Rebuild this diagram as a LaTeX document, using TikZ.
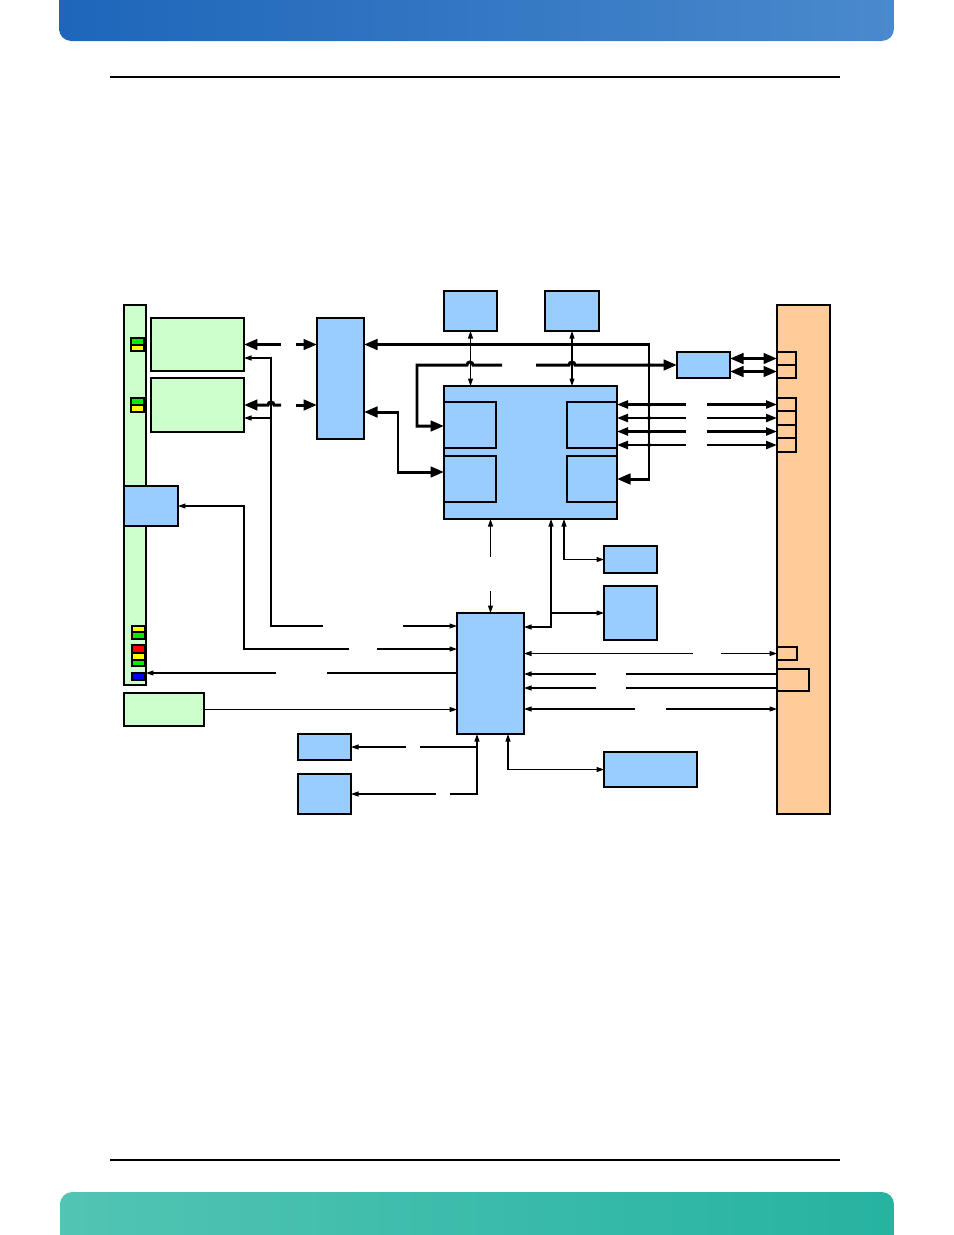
\documentclass[tikz,border=0pt]{standalone}
\usepackage{tikz}
\usepackage{xcolor}
\usetikzlibrary{arrows.meta, positioning, calc, fit}
\definecolor{cBlue}{RGB}{153,204,255}
\definecolor{cLime}{RGB}{204,255,204}
\definecolor{cPeach}{RGB}{255,204,153}
\definecolor{cLedG}{RGB}{0,238,0}
\definecolor{cLedY}{RGB}{255,255,0}
\definecolor{cLedR}{RGB}{255,0,0}
\definecolor{cLedB}{RGB}{0,0,255}
\definecolor{cHeadL}{RGB}{30,102,186}
\definecolor{cHeadR}{RGB}{74,137,204}
\definecolor{cFootL}{RGB}{82,196,180}
\definecolor{cFootR}{RGB}{38,179,160}
\tikzset{
    box/.style      ={rectangle, draw=black, line width=0.6pt, inner sep=0pt, outer sep=0pt},
    bluebox/.style  ={box, fill=cBlue},
    greenbox/.style ={box, fill=cLime},
    peachbox/.style ={box, fill=cPeach},
    bus/.style      ={line width=1.7pt, >={Triangle[length=2.7mm, width=2.1mm]}},
    midbus/.style   ={line width=1.3pt, >={Triangle[length=2.2mm, width=1.6mm]}},
    sig/.style      ={line width=0.6pt, >={Triangle[length=1.5mm, width=1mm]}},
}

\begin{document}
\begin{tikzpicture}[x=0.02cm, y=-0.02cm]
        \useasboundingbox (0,0) rectangle (954,1235);
        % page header and footer
        \begin{scope}
            \clip (59,0) rectangle (894,41);
            \shade[left color=cHeadL, right color=cHeadR, rounded corners=7pt] (59,-30) rectangle (894,41);
        \end{scope}
        \begin{scope}
            \clip (60,1192) rectangle (894,1235);
            \shade[left color=cFootL, right color=cFootR, rounded corners=7pt] (60,1192) rectangle (894,1265);
        \end{scope}
        \draw[line width=0.6pt] (110,77) -- (840,77);
        \draw[line width=0.6pt] (110,1160) -- (840,1160);

        % front panel and LEDs
        \node[greenbox, fit={(124,305) (146,685)}] (ledbar) {};
        \foreach \xa/\ya/\yb/\col in {131/338/345/cLedG, 131/345/351/cLedY, 131/398/405/cLedG, 131/405/412/cLedY,
                                     132/626/632/cLedY, 132/632/639/cLedG, 132/645/653/cLedR, 132/653/660/cLedY,
                                     132/660/666/cLedG, 132/673/680/cLedB}
            \draw[fill=\col, line width=0.6pt] (\xa,\ya) rectangle (\xa+13,\yb);
        \node[greenbox, fit={(151,318) (244,371)}] (lan1) {};
        \node[greenbox, fit={(151,378) (244,432)}] (lan2) {};
        \node[bluebox,  fit={(124,486) (178,526)}] (leftblue) {};
        \node[greenbox, fit={(124,693) (204,726)}] (pwrbox) {};

        % blocks
        \node[bluebox, fit={(317,318) (364,439)}] (hub) {};
        \node[bluebox, fit={(444,291) (497,331)}] (topA) {};
        \node[bluebox, fit={(545,291) (599,331)}] (topB) {};
        \node[bluebox, fit={(444,386) (617,519)}] (cpu) {};
        \node[bluebox, fit={(444,402) (496,448)}] (cpuTL) {};
        \node[bluebox, fit={(444,456) (496,502)}] (cpuBL) {};
        \node[bluebox, fit={(567,402) (617,448)}] (cpuTR) {};
        \node[bluebox, fit={(567,456) (617,502)}] (cpuBR) {};
        \node[bluebox, fit={(677,352) (730,378)}] (phy) {};
        \node[bluebox, fit={(457,613) (524,734)}] (io) {};
        \node[bluebox, fit={(604,546) (657,573)}] (sm1) {};
        \node[bluebox, fit={(604,586) (657,640)}] (sm2) {};
        \node[bluebox, fit={(604,752) (697,787)}] (wide) {};
        \node[bluebox, fit={(298,734) (351,760)}] (lb1) {};
        \node[bluebox, fit={(298,774) (351,814)}] (lb2) {};

        % edge connector
        \node[peachbox, fit={(777,305) (830,814)}] (conn) {};
        \foreach \n/\ya/\yb in {c1/352/365, c2/365/378, c3/398/411, c4/411/425, c5/425/438, c6/438/452}
            \node[peachbox, fit={(777,\ya) (796,\yb)}] (\n) {};
        \node[peachbox, fit={(777,647) (797,660)}] (c7) {};
        \node[peachbox, fit={(777,669) (809,691)}] (c8) {};

        % thick buses
        \draw[bus,<-] (lan1.east) -- ++(37,0);
        \draw[bus,->] (lan1.east) ++(52,0) -- (hub.west |- lan1.east);
        \draw[bus,<-] (lan2.east) -- ++(24,0) arc[start angle=180, end angle=360, radius=3] -- ++(7,0);
        \draw[bus,->] (lan2.east) ++(52,0) -- (hub.west |- lan2.east);
        \draw[bus,<->] (hub.east |- lan1.east) -| ($(cpu.east |- 0,479)+(32,0)$) -- (cpu.east |- 0,479);
        \draw[bus,<->] (hub.east |- 0,412) -- ++(34,0) |- (cpu.west |- 0,472);
        \draw[bus,<-] (phy.west) -- ++(-102,0) arc[start angle=0, end angle=-180, radius=3] -- ++(-33,0);
        \draw[bus,->] (phy.west) ++(-175,0) -- ++(-29,0) arc[start angle=0, end angle=-180, radius=3] -- ++(-50,0) |- (cpu.west |- 0,426);
        \draw[bus,<->] (phy.east |- c1.west) -- (c1.west);
        \draw[bus,<->] (phy.east |- c2.west) -- (c2.west);
        \foreach \c in {c3,c4,c5,c6} {
            \draw[midbus,<-] (cpu.east |- \c.west) -- ++(69,0);
            \draw[midbus,->] (cpu.east |- \c.west) ++(90,0) -- (\c.west);
        }
        \foreach \yy in {365,405,418,432,445}
            \fill (649,\yy) circle[radius=2];

        % thin signals
        \draw[sig,<->] (topA.south) -- (topA.south |- cpu.north);
        \draw[sig,<->] (topB.south) -- (topB.south |- cpu.north);
        \draw[sig,<-] (io.west |- 0,626) -- ++(-54,0);
        \draw[sig,->] (io.west |- 0,626) ++(-134,0) -- ++(-52,0) |- (lan1.east |- 0,358);
        \coordinate (tap) at (271,418);
        \draw[sig,->] (tap) -- (lan2.east |- tap);
        \draw[sig,<-] (io.west |- 0,649) -- ++(-80,0);
        \draw[sig,->] (io.west |- 0,649) ++(-108,0) -- ++(-105,0) |- (leftblue.east);
        \draw[sig] (io.west |- 0,673) -- ++(-130,0);
        \draw[sig,->] (io.west |- 0,673) ++(-181,0) -- (ledbar.east |- 0,673);
        \draw[sig,->] (pwrbox.east) -- (io.west |- pwrbox.east);
        \draw[sig,<-] ($(io.south west)+(20,0)$) -- ++(0,60) -- ++(-27,0);
        \draw[sig,->] ($(io.south west)+(-21,60)$) -- (lb2.east);
        \draw[sig] ($(io.south west)+(20,13)$) -- ++(-57,0);
        \draw[sig,->] ($(io.south west)+(-51,13)$) -- (lb1.east);
        \draw[sig,<->] ($(io.south west)+(51,0)$) |- (wide.west);
        \draw[sig,<-] (cpu.south -| io.north) -- ++(0,38);
        \draw[sig,->] (cpu.south -| io.north) ++(0,72) -- (io.north);
        \draw[sig,<->] ($(cpu.south west)+(107,0)$) |- (io.east |- 0,627);
        \draw[sig,->] ($(sm2.west)+(-53,0)$) -- (sm2.west);
        \draw[sig,<->] ($(cpu.south west)+(120,0)$) |- (sm1.west);
        \draw[sig,<-] (io.east |- c7.west) -- ++(169,0);
        \draw[sig,->] (io.east |- c7.west) ++(197,0) -- (c7.west);
        \draw[sig] (c8.west |- 0,674) -- ++(-151,0);
        \draw[sig,->] (c8.west |- 0,674) ++(-181,0) -- (io.east |- 0,674);
        \draw[sig] (c8.west |- 0,688) -- ++(-151,0);
        \draw[sig,->] (c8.west |- 0,688) ++(-181,0) -- (io.east |- 0,688);
        \draw[sig,<-] (io.east |- 0,709) -- ++(111,0);
        \draw[sig,->] (io.east |- 0,709) ++(142,0) -- (conn.west |- 0,709);
    \end{tikzpicture}
\end{document}
